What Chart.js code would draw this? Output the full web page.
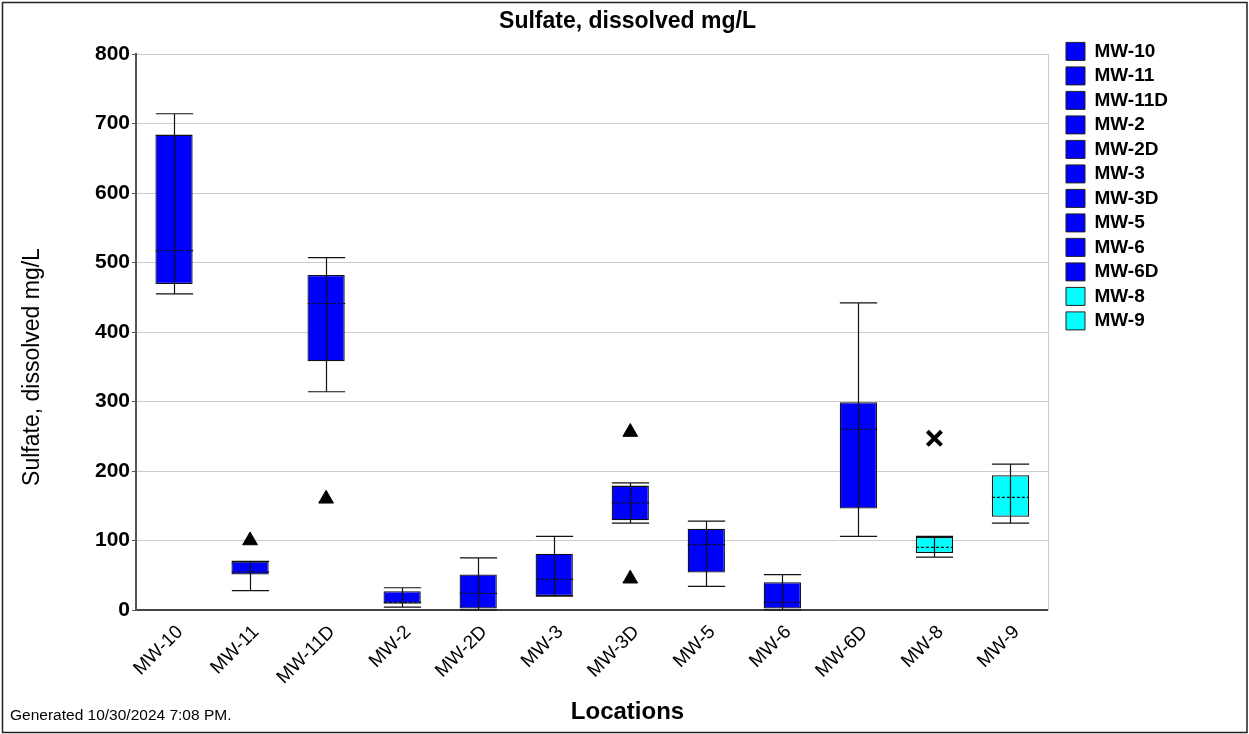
<!DOCTYPE html>
<html>
<head>
<meta charset="utf-8">
<script src="https://cdn.jsdelivr.net/npm/chart.js@4.4.1/dist/chart.umd.min.js"></script>
<style>
  html, body { margin: 0; padding: 0; background: #fff; }
  #grafico { display: block; }
</style>
</head>
<body>
<canvas id="grafico" width="1249" height="734"></canvas>
<script>
const locais = ['MW-10', 'MW-11', 'MW-11D', 'MW-2', 'MW-2D', 'MW-3', 'MW-3D', 'MW-5', 'MW-6', 'MW-6D', 'MW-8', 'MW-9'];
const minimos = [455, 28, 314, 4, 0, 20, 125, 34, 0, 106, 76, 125];
const quartil1 = [469, 51, 358, 9, 2, 20, 129, 54, 2, 146, 82, 134];
const medianas = [517, 55, 441, 11, 24, 44, 154, 94, 11, 260, 90, 162];
const quartil3 = [684, 70, 482, 27, 51, 81, 179, 117, 40, 299, 105, 194];
const maximos = [714, 70, 507, 32, 75, 106, 183, 128, 51, 442, 106, 210];
const coresLocais = ['#0000FF', '#0000FF', '#0000FF', '#0000FF', '#0000FF', '#0000FF', '#0000FF', '#0000FF', '#0000FF', '#0000FF', '#00FFFF', '#00FFFF'];
const outliersTriangulo = [
  { x: 'MW-11', y: 100 },
  { x: 'MW-11D', y: 160 },
  { x: 'MW-3D', y: 256 },
  { x: 'MW-3D', y: 45 }
];
const outliersX = [{ x: 'MW-8', y: 247 }];

const ctx = document.getElementById('grafico').getContext('2d');
Chart.defaults.font.family = '"Liberation Sans", Arial, sans-serif';
Chart.defaults.color = '#000';

// bigodes, tampas e mediana de cada caixa
const bigodes = {
  id: 'bigodes',
  afterDatasetsDraw(chart) {
    const meta = chart.getDatasetMeta(0);
    const y = chart.scales.y;
    const c = chart.ctx;
    c.save();
    c.strokeStyle = '#111';
    c.lineWidth = 1.2;
    meta.data.forEach((bar, i) => {
      const x = Math.round(bar.x) + 0.5;
      const meia = bar.width / 2;
      const yMin = y.getPixelForValue(minimos[i]);
      const yMax = y.getPixelForValue(maximos[i]);
      const yMed = y.getPixelForValue(medianas[i]);
      c.setLineDash([]);
      c.beginPath();
      c.moveTo(x, yMin); c.lineTo(x, yMax);
      c.moveTo(x - meia, yMin); c.lineTo(x + meia, yMin);
      c.moveTo(x - meia, yMax); c.lineTo(x + meia, yMax);
      c.stroke();
      c.setLineDash([3, 2]);
      c.beginPath();
      c.moveTo(x - meia, yMed); c.lineTo(x + meia, yMed);
      c.stroke();
    });
    c.restore();
  }
};

// moldura, titulo do eixo y e rodape
const extras = {
  id: 'extras',
  beforeDraw(chart) {
    const c = chart.ctx;
    c.save();
    c.fillStyle = '#fff';
    c.fillRect(0, 0, chart.width, chart.height);
    c.restore();
  },
  afterDraw(chart) {
    const c = chart.ctx;
    c.save();
    c.strokeStyle = '#222';
    c.lineWidth = 1.5;
    c.strokeRect(2.5, 2.5, chart.width - 4.5, chart.height - 4);
    c.fillStyle = '#000';
    c.font = '23px "Liberation Sans", Arial, sans-serif';
    c.textAlign = 'center';
    c.textBaseline = 'middle';
    c.translate(33, chart.height / 2);
    c.rotate(-Math.PI / 2);
    c.fillText('Sulfate, dissolved mg/L', 0, 0);
    c.restore();
    c.save();
    c.fillStyle = '#000';
    c.font = '15.5px "Liberation Sans", Arial, sans-serif';
    c.textAlign = 'left';
    c.textBaseline = 'middle';
    c.fillText('Generated 10/30/2024 7:08 PM.', 10, 716);
    c.restore();
  }
};

const chart = new Chart(ctx, {
  data: {
    labels: locais,
    datasets: [
      {
        type: 'bar',
        label: 'Caixas',
        data: locais.map((_, i) => [quartil1[i], quartil3[i]]),
        backgroundColor: coresLocais,
        borderColor: '#111',
        borderWidth: 1.3,
        borderSkipped: false,
        categoryPercentage: 1,
        barPercentage: 0.49
      },
      {
        type: 'scatter',
        label: 'Outliers',
        data: outliersTriangulo,
        pointStyle: 'triangle',
        radius: 8.5,
        backgroundColor: '#000',
        borderColor: '#000',
        borderWidth: 1
      },
      {
        type: 'scatter',
        label: 'Extremos',
        data: outliersX,
        pointStyle: 'crossRot',
        radius: 10,
        borderColor: '#000',
        borderWidth: 4
      }
    ]
  },
  options: {
    responsive: false,
    animation: false,
    layout: { padding: { left: 6, top: 3, right: 0, bottom: 0 } },
    plugins: {
      tooltip: { enabled: false },
      title: {
        display: true,
        text: 'Sulfate, dissolved mg/L',
        font: { size: 23, weight: 'bold' },
        color: '#000',
        padding: { top: 5, bottom: 18.4 }
      },
      subtitle: {
        display: true,
        position: 'bottom',
        text: 'Locations',
        font: { size: 24, weight: 'bold' },
        color: '#000',
        padding: { top: 0, bottom: 7.2 }
      },
      legend: {
        position: 'right',
        align: 'start',
        title: { display: true, text: '', font: { size: 12 }, padding: 9.5 },
        labels: {
          boxWidth: 19,
          boxHeight: 18,
          padding: 5.5,
          font: { size: 19, weight: 'bold' },
          color: '#000',
          generateLabels: () => locais.map((l, i) => ({
            text: l,
            fillStyle: coresLocais[i],
            strokeStyle: '#222',
            lineWidth: 1,
            hidden: false,
            datasetIndex: 0
          }))
        }
      }
    },
    scales: {
      x: {
        type: 'category',
        grid: { display: false },
        border: { color: '#444', width: 2 },
        ticks: {
          minRotation: 45,
          maxRotation: 45,
          labelOffset: 6,
          font: { size: 19 },
          color: '#000'
        },
        afterFit: s => { s.height = 88; }
      },
      y: {
        min: 0,
        max: 800,
        ticks: {
          stepSize: 100,
          font: { size: 21, weight: 'bold' },
          color: '#000',
          padding: 2
        },
        grid: { color: '#cccccc', tickLength: 4, tickColor: '#555' },
        border: { color: '#555', width: 2 },
        afterFit: s => { s.width = 130; }
      },
      y2: {
        position: 'right',
        display: true,
        grid: { display: false },
        ticks: { display: false },
        border: { color: '#cccccc', width: 1 },
        afterFit: s => { s.width = 12; }
      },
      margem: {
        position: 'right',
        weight: 2000,
        display: true,
        grid: { display: false },
        ticks: { display: false },
        border: { display: false },
        afterFit: s => { s.width = 1249 - 1060 - 3 - 115; }
      }
    }
  },
  plugins: [bigodes, extras]
});
</script>
</body>
</html>
